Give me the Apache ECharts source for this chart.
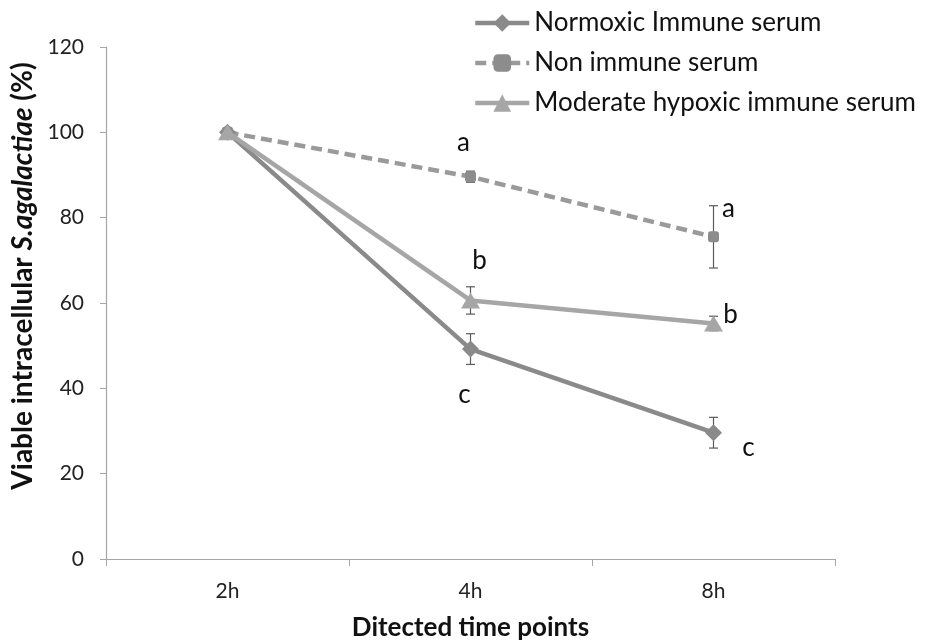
<!DOCTYPE html>
<html>
<head>
<meta charset="utf-8">
<title>Viable intracellular S. agalactiae over time</title>
<script src="https://cdn.jsdelivr.net/npm/echarts@6/dist/echarts.min.js"></script>
<style>
  html, body { margin: 0; padding: 0; background: #fff; }
  #chart { width: 925px; height: 644px; }
</style>
</head>
<body>
<div id="chart"></div>
<script>
// Sampling times (category axis)
const timePoints = ['2h', '4h', '8h'];

// Mean viability (%) and error (±) per group
const normoxicMean  = [100, 49.2, 29.6];
const normoxicErr   = [0, 3.6, 3.6];
const nonImmuneMean = [100, 89.6, 75.5];
const nonImmuneErr  = [0, 1.3, 7.3];
const hypoxicMean   = [100, 60.6, 55.2];
const hypoxicErr    = [0, 3.2, 1.7];

// Significance letters shown beside each point
const normoxicLetters  = ['', 'c', 'c'];
const nonImmuneLetters = ['', 'a', 'a'];
const hypoxicLetters   = ['', 'b', 'b'];

// Series names
const seriesNames = ['Normoxic Immune serum', 'Non immune serum', 'Moderate hypoxic immune serum'];

const FONT = 'Lato, "Open Sans", sans-serif';

// Pixel offsets of the letters relative to their point
const letterOffsets = {
  normoxic:  [null, [-6, 46], [35, 15]],
  nonImmune: [null, [-7, -34], [15, -28]],
  hypoxic:   [null, [9, -40], [17, -9]]
};

function withLetters(values, letters, offsets) {
  return values.map((v, i) => {
    if (!letters[i]) return v;
    return {
      value: v,
      label: {
        show: true,
        formatter: letters[i],
        position: 'inside',
        offset: offsets[i],
        fontFamily: FONT,
        fontSize: 26,
        color: '#111',
        align: 'center',
        verticalAlign: 'middle'
      }
    };
  });
}

function errorData(means, errs) {
  return means.map((m, i) => [i, m - errs[i], m + errs[i]]).filter((d, i) => errs[i] > 0);
}

function errorSeries(name, means, errs) {
  return {
    type: 'custom',
    name: name + ' error',
    z: 1,
    silent: true,
    data: errorData(means, errs),
    encode: { x: 0, y: [1, 2] },
    renderItem: function (params, api) {
      const x = api.value(0);
      const lo = api.coord([x, api.value(1)]);
      const hi = api.coord([x, api.value(2)]);
      const w = 4.5;
      const style = { stroke: '#5a5a5a', lineWidth: 1.2 };
      return {
        type: 'group',
        children: [
          { type: 'line', shape: { x1: hi[0], y1: hi[1], x2: lo[0], y2: lo[1] }, style },
          { type: 'line', shape: { x1: hi[0] - w, y1: hi[1], x2: hi[0] + w, y2: hi[1] }, style },
          { type: 'line', shape: { x1: lo[0] - w, y1: lo[1], x2: lo[0] + w, y2: lo[1] }, style }
        ]
      };
    }
  };
}

const chart = echarts.init(document.getElementById('chart'), null, { renderer: 'canvas' });

chart.setOption({
  animation: false,
  backgroundColor: '#ffffff',
  textStyle: { fontFamily: FONT },
  grid: {
    left: 106, right: 90, top: 47, bottom: 85,
    containLabel: false,
    outerBoundsMode: 'none'
  },
  legend: {
    orient: 'vertical',
    left: 468,
    top: 5,
    itemWidth: 54,
    itemHeight: 22,
    itemGap: 14,
    data: seriesNames,
    lineStyle: { width: 4.5 },
    textStyle: { fontFamily: FONT, fontSize: 26, color: '#111' }
  },
  xAxis: {
    type: 'category',
    data: timePoints,
    boundaryGap: true,
    name: 'Ditected time points',
    nameLocation: 'middle',
    nameGap: 56,
    nameTextStyle: { fontFamily: FONT, fontSize: 26, fontWeight: 'bold', color: '#111' },
    axisLine: { lineStyle: { color: '#a6a6a6', width: 1.2 } },
    axisTick: { show: true, length: 7, lineStyle: { color: '#a6a6a6' } },
    axisLabel: { fontFamily: FONT, fontSize: 21, color: '#222', margin: 22 },
    splitLine: { show: false }
  },
  yAxis: {
    type: 'value',
    min: 0,
    max: 120,
    interval: 20,
    name: '{t|Viable intracellular }{it|S.agalactiae}{t| (%)}',
    nameLocation: 'middle',
    nameGap: 67,
    nameRotate: 90,
    nameTextStyle: {
      fontFamily: FONT, fontSize: 28, fontWeight: 'bold', color: '#111',
      padding: [0, 0, 0, 54],
      rich: {
        t:  { fontFamily: FONT, fontSize: 28, fontWeight: 'bold', color: '#111' },
        it: { fontFamily: FONT, fontSize: 28, fontWeight: 'bold', fontStyle: 'italic', color: '#111' }
      }
    },
    axisLine: { show: true, lineStyle: { color: '#a6a6a6', width: 1.2 } },
    axisTick: { show: true, length: 6, lineStyle: { color: '#a6a6a6' } },
    axisLabel: { fontFamily: FONT, fontSize: 21, color: '#222', margin: 22 },
    splitLine: { show: false }
  },
  series: [
    errorSeries(seriesNames[0], normoxicMean, normoxicErr),
    errorSeries(seriesNames[1], nonImmuneMean, nonImmuneErr),
    errorSeries(seriesNames[2], hypoxicMean, hypoxicErr),
    {
      name: seriesNames[1],
      type: 'line',
      z: 3,
      data: withLetters(nonImmuneMean, nonImmuneLetters, letterOffsets.nonImmune),
      symbol: 'roundRect',
      symbolSize: 11,
      color: '#8c8c8c',
      lineStyle: { color: '#9a9a9a', width: 4.5, type: [11, 6] },
      itemStyle: { color: '#8c8c8c' }
    },
    {
      name: seriesNames[0],
      type: 'line',
      z: 4,
      data: withLetters(normoxicMean, normoxicLetters, letterOffsets.normoxic),
      symbol: 'diamond',
      symbolSize: 17,
      color: '#8a8a8a',
      lineStyle: { color: '#8a8a8a', width: 4.5 },
      itemStyle: { color: '#8a8a8a' }
    },
    {
      name: seriesNames[2],
      type: 'line',
      z: 5,
      data: withLetters(hypoxicMean, hypoxicLetters, letterOffsets.hypoxic),
      symbol: 'triangle',
      symbolSize: [19, 16],
      color: '#a6a6a6',
      lineStyle: { color: '#a6a6a6', width: 4.5 },
      itemStyle: { color: '#a6a6a6' }
    }
  ]
});
</script>
</body>
</html>
